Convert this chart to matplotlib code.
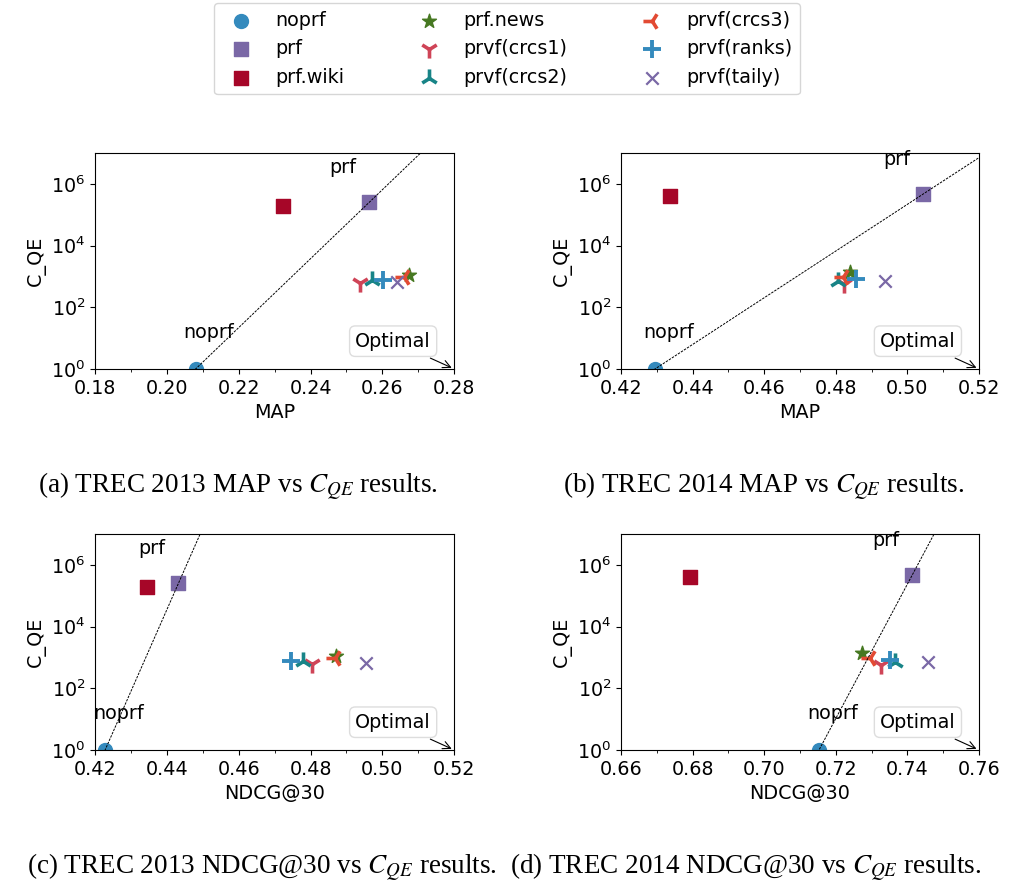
import numpy as np
import matplotlib
matplotlib.use('Agg')
import matplotlib.pyplot as plt
from matplotlib.ticker import MultipleLocator, NullLocator

plt.rcParams['font.size'] = 13.8

methods = ['noprf', 'prf', 'prf.wiki', 'prf.news', 'prvf(crcs1)',
           'prvf(crcs2)', 'prvf(crcs3)', 'prvf(ranks)', 'prvf(taily)']
markers = ['o', 's', 's', '*', '1', '2', '3', '+', 'x']
colors = ['#348ABD', '#7A68A6', '#A60628', '#467821', '#CF4457',
          '#188487', '#E24A33', '#348ABD', '#7A68A6']
sizes = [100, 100, 100, 110, 170, 170, 170, 160, 80]
lws = [1, 1, 1, 1, 2.6, 2.6, 2.6, 2.8, 1.6]

# query expansion cost per method, per year
cqe_2013 = [1, 2.5e5, 1.9e5, 1150, 620, 760, 950, 780, 670]
cqe_2014 = [1, 4.6e5, 4.0e5, 1350, 550, 710, 950, 800, 700]

# effectiveness
map_2013 = [0.2080, 0.2563, 0.2323, 0.2673, 0.2538, 0.2571, 0.2661, 0.2603, 0.2640]
map_2014 = [0.4295, 0.5043, 0.4338, 0.4840, 0.4824, 0.4807, 0.4821, 0.4855, 0.4937]
ndcg_2013 = [0.4228, 0.4432, 0.4344, 0.4871, 0.4803, 0.4780, 0.4869, 0.4745, 0.4955]
ndcg_2014 = [0.7153, 0.7413, 0.6793, 0.7272, 0.7326, 0.7365, 0.7296, 0.7351, 0.7458]

panels = [
    (map_2013, cqe_2013, (0.18, 0.28), 'MAP', '(a) TREC 2013 MAP vs $C_{QE}$ results.'),
    (map_2014, cqe_2014, (0.42, 0.52), 'MAP', '(b) TREC 2014 MAP vs $C_{QE}$ results.'),
    (ndcg_2013, cqe_2013, (0.42, 0.52), 'NDCG@30', '(c) TREC 2013 NDCG@30 vs $C_{QE}$ results.'),
    (ndcg_2014, cqe_2014, (0.66, 0.76), 'NDCG@30', '(d) TREC 2014 NDCG@30 vs $C_{QE}$ results.'),
]

fig = plt.figure(figsize=(10.09, 8.88), dpi=100)
axes_pos = [[0.0942, 0.5845, 0.356, 0.2432], [0.6155, 0.5845, 0.3548, 0.2432],
            [0.0942, 0.1554, 0.356, 0.2432], [0.6155, 0.1554, 0.3548, 0.2432]]
cap_pos = [(0.2354, 0.4516, 'center'), (0.757, 0.4516, 'center'),
           (0.4926, 0.0225, 'right'), (0.5055, 0.0225, 'left')]

for i, (eff, cost, xl, xlab, cap) in enumerate(panels):
    ax = fig.add_axes(axes_pos[i])
    for j in range(len(methods)):
        ax.scatter(eff[j], cost[j], marker=markers[j], color=colors[j], s=sizes[j],
                   linewidths=lws[j], label=methods[j])

    # line through noprf and prf (log space)
    x0, x1 = eff[0], eff[1]
    l0, l1 = np.log10(cost[0]), np.log10(cost[1])
    slope = (l1 - l0) / (x1 - x0)
    xs = np.array([x0 - 0.05, x0 + (8 - l0) / slope])
    ax.plot(xs, 10 ** (l0 + slope * (xs - x0)), 'k--', lw=0.7, dashes=(2.5, 1.2))

    ax.annotate('noprf', (eff[0], cost[0]), xytext=(9.5, 26), textcoords='offset points',
                ha='center', va='center')
    ax.annotate('prf', (eff[1], cost[1]), xytext=(-19, 25), textcoords='offset points',
                ha='center', va='center')
    ax.annotate('Optimal', (xl[1], 1), xytext=(-44, 20), textcoords='offset points',
                ha='center', va='center',
                bbox=dict(boxstyle='round', fc='white', ec='#dddddd'),
                arrowprops=dict(arrowstyle='->', color='k', lw=0.8))

    ax.set_yscale('log')
    ax.set_xlim(xl)
    ax.set_ylim(1, 1e7)
    ax.set_yticks([1, 1e2, 1e4, 1e6])
    ax.yaxis.set_minor_locator(NullLocator())
    ax.xaxis.set_major_locator(MultipleLocator(0.02))
    ax.xaxis.set_minor_locator(MultipleLocator(0.01))
    ax.set_xlabel(xlab)
    ax.set_ylabel('C_QE')

    cx, cy, ha = cap_pos[i]
    fig.text(cx, cy, cap, ha=ha, va='center', family='Liberation Serif',
             fontsize=19.5, math_fontfamily='stix')

    if i == 0:
        handles, labels = ax.get_legend_handles_labels()

fig.legend(handles, labels, loc='upper center', bbox_to_anchor=(0.5025, 1.0), ncol=3,
           borderaxespad=0.15, columnspacing=3.4)

plt.savefig('out.png', dpi=100)
